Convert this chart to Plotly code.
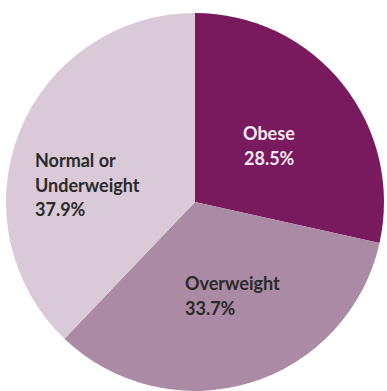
import plotly.graph_objects as go

# Weight status shares (%)
categories = ["Obese", "Overweight", "Normal or<br>Underweight"]
shares = [28.5, 33.7, 37.9]
slice_colors = ["#7A1A5E", "#AA8AA4", "#DAC9D7"]

W, H = 387, 391
cx, cy, r = 195, 202, 189  # pie centre and radius in pixels

fig = go.Figure(
    go.Pie(
        labels=categories,
        values=shares,
        sort=False,
        direction="clockwise",
        rotation=0,
        marker=dict(colors=slice_colors, line=dict(width=0)),
        textinfo="none",
        hoverinfo="label+percent",
        showlegend=False,
        domain=dict(
            x=[(cx - r) / W, (cx + r) / W],
            y=[1 - (cy + r) / H, 1 - (cy - r) / H],
        ),
    )
)

# Slice labels: (x px, y px of the first line, anchor, colour)
label_spots = [
    (269, 133, "center", "#F6E8F2"),
    (183, 283, "left", "#2A2A2A"),
    (33, 160, "left", "#2A2A2A"),
]
line_h = 24.5
for name, val, (x, y, anchor, col) in zip(categories, shares, label_spots):
    lines = name.split("<br>") + [f"{val:.1f}%"]
    for i, t in enumerate(lines):
        fig.add_annotation(
            x=x / W,
            y=1 - (y + i * line_h) / H,
            xref="paper",
            yref="paper",
            text=f"<b>{t}</b>",
            showarrow=False,
            xanchor=anchor,
            yanchor="middle",
            font=dict(family="Lato, sans-serif", size=18, color=col),
        )

fig.update_layout(
    width=W,
    height=H,
    margin=dict(l=0, r=0, t=0, b=0),
    paper_bgcolor="white",
    plot_bgcolor="white",
)

fig.write_html("out.html")
